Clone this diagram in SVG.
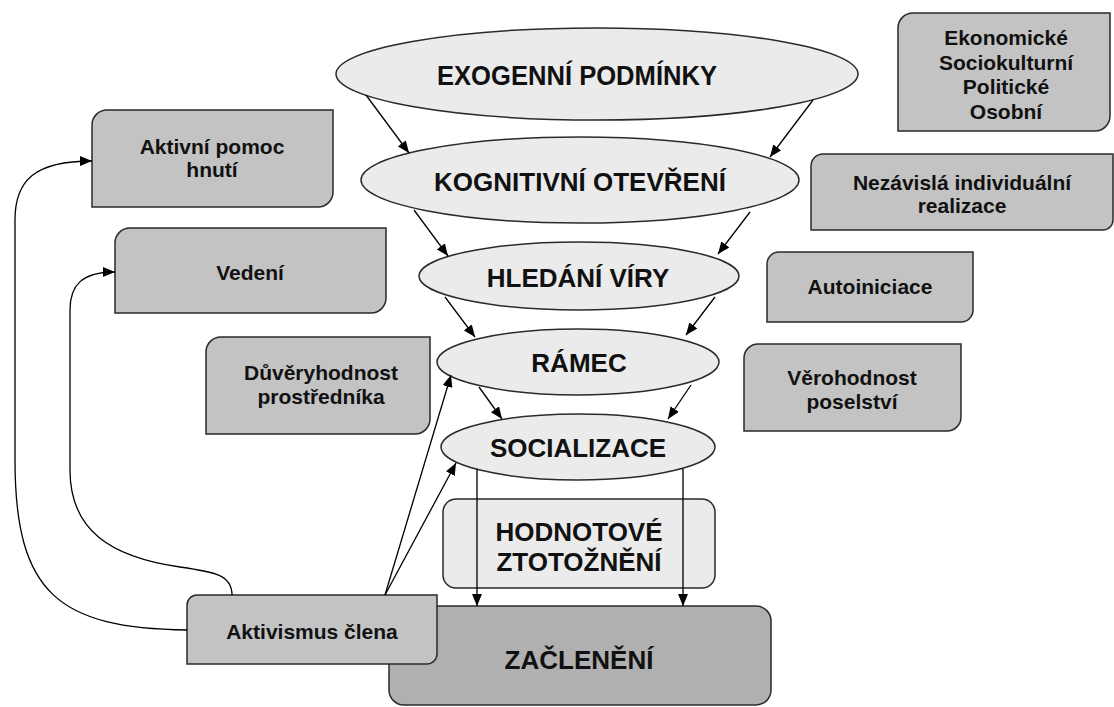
<svg xmlns="http://www.w3.org/2000/svg" width="1114" height="707" viewBox="0 0 1114 707">
<defs>
<marker id="ah" viewBox="0 0 12 10" refX="12" refY="5" markerWidth="12" markerHeight="10" markerUnits="userSpaceOnUse" orient="auto">
<path d="M0,0 L12,5 L0,10 z" fill="#000"/>
</marker>
<style>
.el{fill:#ebebeb;stroke:#2a2a2a;stroke-width:1.5}
.bx{fill:#c3c3c3;stroke:#2a2a2a;stroke-width:1.5}
.hv{fill:#ebebeb;stroke:#2a2a2a;stroke-width:1.5}
.zc{fill:#b0b0b0;stroke:#2a2a2a;stroke-width:1.5}
.big{font-family:"Liberation Sans",Arial,sans-serif;font-weight:bold;font-size:26px;fill:#111;text-anchor:middle}
.sm{font-family:"Liberation Sans",Arial,sans-serif;font-weight:bold;font-size:21px;fill:#111;text-anchor:middle}
.cn{fill:none;stroke:#000;stroke-width:1.3}
.ar{marker-end:url(#ah)}
</style>
</defs>
<rect width="1114" height="707" fill="#fff"/>

<g id="exogenni">
<ellipse class="el" cx="597" cy="74" rx="261" ry="46"/>
<text class="big" x="577" y="85" style="font-size:27px" textLength="280" lengthAdjust="spacingAndGlyphs">EXOGENNÍ PODMÍNKY</text>
</g>
<g id="kognitivni">
<ellipse class="el" cx="580" cy="180" rx="219" ry="43"/>
<text class="big" x="580" y="191">KOGNITIVNÍ OTEVŘENÍ</text>
</g>
<g id="hledani">
<ellipse class="el" cx="579" cy="276" rx="160" ry="34"/>
<text class="big" x="578" y="287">HLEDÁNÍ VÍRY</text>
</g>
<g id="ramec">
<ellipse class="el" cx="578" cy="362" rx="141" ry="33"/>
<text class="big" x="579" y="372">RÁMEC</text>
</g>
<g id="socializace">
<ellipse class="el" cx="578" cy="447" rx="137" ry="33"/>
<text class="big" x="578" y="457">SOCIALIZACE</text>
</g>
<g id="hodnotove">
<rect class="hv" x="443" y="499" width="272" height="89" rx="13"/>
<text class="big" x="579" y="541">HODNOTOVÉ</text>
<text class="big" x="579" y="571">ZTOTOŽNĚNÍ</text>
</g>
<g id="zacleneni">
<rect class="zc" x="389" y="606" width="382" height="99" rx="15"/>
<text class="big" x="579" y="669">ZAČLENĚNÍ</text>
</g>
<g id="aktivismus">
<path class="bx" d="M197,595 H437 V654 A10,10 0 0 1 427,664 H187 V605 A10,10 0 0 1 197,595 Z"/>
<text class="sm" x="312" y="639">Aktivismus člena</text>
</g>
<g id="ekonomicke">
<path class="bx" d="M913,13 H1110 V116 A15,15 0 0 1 1095,131 H898 V28 A15,15 0 0 1 913,13 Z"/>
<text class="sm" x="1006" y="45">Ekonomické</text>
<text class="sm" x="1006" y="70">Sociokulturní</text>
<text class="sm" x="1006" y="94">Politické</text>
<text class="sm" x="1006" y="119">Osobní</text>
</g>
<g id="nezavisla">
<path class="bx" d="M823,154 H1113 V220 A10,10 0 0 1 1103,230 H811 V166 A12,12 0 0 1 823,154 Z"/>
<text class="sm" x="962" y="190">Nezávislá individuální</text>
<text class="sm" x="962" y="213">realizace</text>
</g>
<g id="autoiniciace">
<path class="bx" d="M779,252 H973 V310 A12,12 0 0 1 961,322 H767 V264 A12,12 0 0 1 779,252 Z"/>
<text class="sm" x="870" y="294">Autoiniciace</text>
</g>
<g id="verohodnost">
<path class="bx" d="M758,344 H961 V417 A14,14 0 0 1 947,431 H744 V358 A14,14 0 0 1 758,344 Z"/>
<text class="sm" x="852" y="385">Věrohodnost</text>
<text class="sm" x="852" y="409">poselství</text>
</g>
<g id="duveryhodnost">
<path class="bx" d="M221,337 H430 V419 A15,15 0 0 1 415,434 H206 V352 A15,15 0 0 1 221,337 Z"/>
<text class="sm" x="321" y="380">Důvěryhodnost</text>
<text class="sm" x="321" y="404">prostředníka</text>
</g>
<g id="aktivni">
<path class="bx" d="M107,110 H333 V192 A15,15 0 0 1 318,207 H92 V125 A15,15 0 0 1 107,110 Z"/>
<text class="sm" x="212" y="154">Aktivní pomoc</text>
<text class="sm" x="212" y="177">hnutí</text>
</g>
<g id="vedeni">
<path class="bx" d="M130,228 H386 V298 A15,15 0 0 1 371,313 H115 V243 A15,15 0 0 1 130,228 Z"/>
<text class="sm" x="250" y="280">Vedení</text>
</g>

<g id="connectors">
<path class="cn ar" d="M366,95 L409,153"/>
<path class="cn ar" d="M813,100 L770,157"/>
<path class="cn ar" d="M414,210 L448,256"/>
<path class="cn ar" d="M750,212 L718,254"/>
<path class="cn ar" d="M445,297 L475,337"/>
<path class="cn ar" d="M715,297 L686,335"/>
<path class="cn ar" d="M479,387 L502,419"/>
<path class="cn ar" d="M691,385 L668,419"/>
<path class="cn ar" d="M477,469 L477,606"/>
<path class="cn ar" d="M683,469 L683,606"/>
<path class="cn ar" d="M385,595 L451,375"/>
<path class="cn ar" d="M385,595 L456,463"/>
<path class="cn ar" d="M187,630 C60,628 15,595 15,460 L15,220 C15,180 35,161 92,161"/>
<path class="cn ar" d="M232,595 C232,575 215,572 180,567 C110,557 70,530 70,470 L70,310 C70,285 82,272 115,272"/>
</g>
</svg>
